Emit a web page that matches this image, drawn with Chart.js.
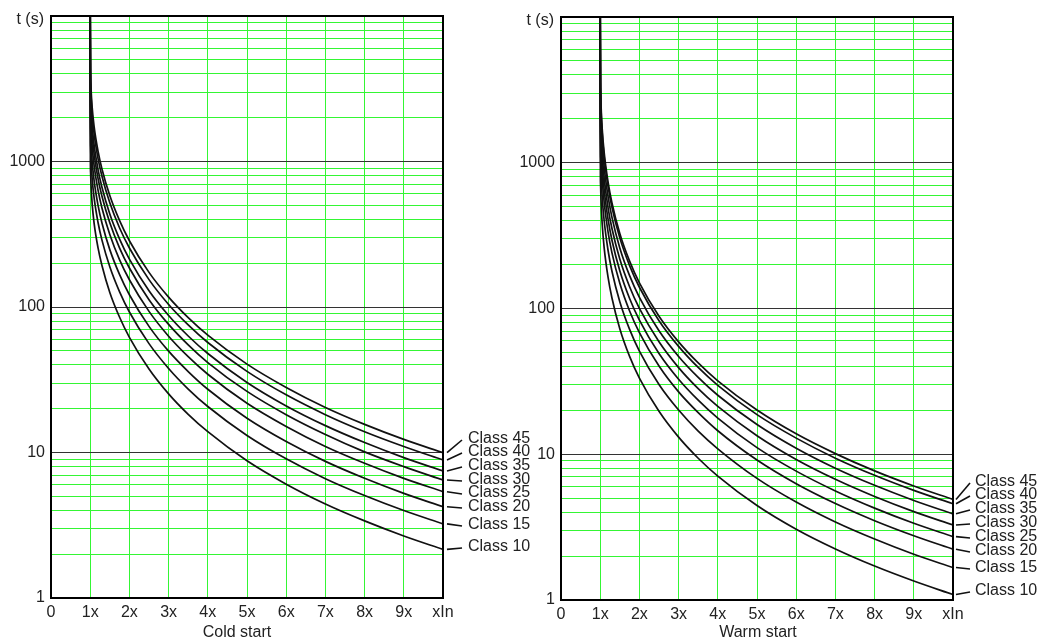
<!DOCTYPE html>
<html><head><meta charset="utf-8">
<script src="https://cdn.jsdelivr.net/npm/chart.js@4.4.1/dist/chart.umd.min.js"></script>
<style>
html,body{margin:0;padding:0;background:#fff;}
body{width:1039px;height:642px;position:relative;overflow:hidden;}
canvas{position:absolute;top:0;}
#cold{left:0;}
#warm{left:500px;}
</style></head><body>
<canvas id="cold" width="540" height="642"></canvas>
<canvas id="warm" width="539" height="642"></canvas>
<script>
// ---------- data ----------
const classNames = ['Class 10', 'Class 15', 'Class 20', 'Class 25', 'Class 30', 'Class 35', 'Class 40', 'Class 45'];
const currentMultiples = [1, 1.005, 1.01, 1.02, 1.05, 1.1, 1.2, 1.3, 1.5, 1.75, 2, 2.5, 3, 3.5, 4, 5, 6, 7, 8, 9, 10];
const xTickValues = [0, 1, 2, 3, 4, 5, 6, 7, 8, 9, 10];
const xTickLabels = ['0', '1x', '2x', '3x', '4x', '5x', '6x', '7x', '8x', '9x', 'xIn'];
const yTickValues = [1, 2, 3, 4, 5, 6, 7, 8, 9, 10, 20, 30, 40, 50, 60, 70, 80, 90, 100, 200, 300, 400, 500, 600, 700, 800, 900, 1000, 2000, 3000, 4000, 5000, 6000, 7000, 8000, 9000, 10000];
const yLabelValues = [1, 10, 100, 1000];
const yAxisName = 't (s)';

// Cold start trip times (s)
const cold10 = [10000, 992, 844, 698, 511, 376, 255, 193, 126, 85, 61.9, 37.5, 25.3, 18.3, 13.9, 8.77, 6.06, 4.43, 3.39, 2.67, 2.16];
const cold15 = [10000, 1481, 1261, 1043, 762, 562, 381, 288, 189, 127, 92.4, 56.0, 37.8, 27.3, 20.7, 13.1, 9.05, 6.61, 5.06, 3.99, 3.23];
const cold20 = [10000, 1947, 1657, 1371, 1002, 739, 500, 378, 248, 167, 121.4, 73.6, 49.7, 36.0, 27.2, 17.2, 11.9, 8.69, 6.65, 5.24, 4.24];
const cold25 = [10000, 2468, 2101, 1738, 1271, 937, 635, 479, 315, 211, 153.9, 93.3, 63.0, 45.6, 34.5, 21.8, 15.1, 11.0, 8.43, 6.64, 5.38];
const cold30 = [10000, 2971, 2529, 2092, 1530, 1128, 764, 577, 379, 254, 185.3, 112.3, 75.9, 54.9, 41.5, 26.3, 18.2, 13.3, 10.1, 8.00, 6.47];
const cold35 = [10000, 3423, 2914, 2410, 1762, 1299, 880, 665, 436, 293, 213.5, 129.4, 87.4, 63.2, 47.9, 30.3, 20.9, 15.3, 11.7, 9.22, 7.46];
const cold40 = [10000, 4078, 3471, 2871, 2100, 1548, 1048, 792, 520, 349, 254.3, 154.2, 104.1, 75.3, 57.0, 36.1, 24.9, 18.2, 13.9, 11.0, 8.88];
const cold45 = [10000, 4576, 3896, 3222, 2356, 1737, 1177, 889, 583, 392, 285.4, 173.0, 116.9, 84.5, 64.0, 40.5, 28.0, 20.4, 15.6, 12.3, 9.97];

// Warm start trip times (s)
const warm10 = [10000, 849, 703, 560, 383, 263, 164, 118, 72.7, 46.9, 33.3, 19.7, 13.1, 9.39, 7.08, 4.45, 3.06, 2.24, 1.71, 1.35, 1.09];
const warm15 = [10000, 1301, 1077, 859, 586, 403, 251, 180, 111.4, 71.9, 51.0, 30.1, 20.1, 14.4, 10.9, 6.83, 4.70, 3.43, 2.62, 2.06, 1.67];
const warm20 = [10000, 1741, 1441, 1149, 785, 540, 336, 241, 149.1, 96.2, 68.3, 40.3, 26.8, 19.3, 14.5, 9.13, 6.28, 4.59, 3.50, 2.76, 2.23];
const warm25 = [10000, 2122, 1757, 1401, 956, 658, 410, 294, 181.7, 117.2, 83.3, 49.1, 32.7, 23.5, 17.7, 11.1, 7.66, 5.60, 4.27, 3.36, 2.72];
const warm30 = [10000, 2550, 2111, 1684, 1149, 790, 493, 354, 218.4, 140.9, 100.1, 59.1, 39.3, 28.2, 21.3, 13.4, 9.21, 6.73, 5.13, 4.04, 3.27];
const warm35 = [10000, 3041, 2518, 2008, 1371, 943, 587, 422, 260.5, 168.0, 119.4, 70.4, 46.9, 33.7, 25.4, 16.0, 11.0, 8.02, 6.12, 4.82, 3.90];
const warm40 = [10000, 3564, 2950, 2353, 1606, 1105, 688, 494, 305.2, 196.9, 139.9, 82.5, 55.0, 39.4, 29.7, 18.7, 12.9, 9.40, 7.17, 5.65, 4.57];
const warm45 = [10000, 3823, 3165, 2524, 1723, 1185, 739, 530, 327.4, 211.2, 150.0, 88.5, 59.0, 42.3, 31.9, 20.1, 13.8, 10.1, 7.69, 6.06, 4.90];

const coldSeries = [cold10, cold15, cold20, cold25, cold30, cold35, cold40, cold45];
const warmSeries = [warm10, warm15, warm20, warm25, warm30, warm35, warm40, warm45];

// ---------- styling / layout ----------
const FONT = '"Liberation Sans", Arial, Helvetica, sans-serif';
const TEXT = '#222';
const GREEN = 'rgb(52,246,52)';
const DECADE = '#333';

function makeDatasets(series) {
  return series.map((vals, i) => ({
    label: classNames[i],
    data: currentMultiples.map((x, k) => ({x: x, y: vals[k]})),
    borderColor: '#111',
    borderWidth: 1.7,
    pointRadius: 0,
    fill: false,
    cubicInterpolationMode: 'monotone'
  }));
}

function annotationPlugin(layout) {
  return {
    id: 'annot_' + layout.title.replace(/\s/g, ''),
    afterDraw(chart) {
      const ctx = chart.ctx, a = chart.chartArea, ys = chart.scales.y;
      ctx.save();
      ctx.strokeStyle = '#000';
      ctx.lineWidth = 2;
      ctx.strokeRect(a.left, a.top, a.right - a.left, a.bottom - a.top);
      ctx.font = '16px ' + FONT;
      ctx.fillStyle = TEXT;
      ctx.textBaseline = 'middle';
      // axis name at top-left
      ctx.textAlign = 'right';
      ctx.fillText(yAxisName, a.left - 7, a.top + 4);
      ctx.textAlign = 'left';
      ctx.strokeStyle = '#111';
      ctx.lineWidth = 1.6;
      chart.data.datasets.forEach((ds, i) => {
        const last = ds.data[ds.data.length - 1];
        const y0 = ys.getPixelForValue(last.y);
        const y1 = a.bottom - layout.labelOffsets[i];
        ctx.beginPath();
        ctx.moveTo(a.right + layout.leadStart, y0);
        ctx.lineTo(a.right + layout.leadEnd, y1 + 1);
        ctx.stroke();
        ctx.fillText(ds.label, a.right + layout.textX, y1);
      });
      ctx.textAlign = 'center';
      ctx.fillText(layout.title, (a.left + a.right) / 2 + layout.titleDx, layout.titleY);
      ctx.restore();
    }
  };
}

function makeChart(id, series, layout) {
  return new Chart(document.getElementById(id), {
    type: 'line',
    data: {datasets: makeDatasets(series)},
    options: {
      responsive: false,
      animation: false,
      devicePixelRatio: 1,
      layout: {padding: {top: layout.top, right: layout.right, left: 0, bottom: 0}},
      plugins: {legend: {display: false}, tooltip: {enabled: false}},
      scales: {
        x: {
          type: 'linear', min: 0, max: 10,
          afterBuildTicks: (s) => { s.ticks = xTickValues.map(v => ({value: v})); },
          afterFit: (s) => { s.height = layout.xAxisHeight; },
          ticks: {
            autoSkip: false, maxRotation: 0, padding: 5,
            font: {family: FONT, size: 16}, color: TEXT,
            callback: (v) => xTickLabels[xTickValues.indexOf(v)]
          },
          grid: {
            drawTicks: false, lineWidth: 1,
            color: (c) => (c.tick && (c.tick.value === 0 || c.tick.value === 10)) ? 'rgba(0,0,0,0)' : GREEN
          },
          border: {display: false}
        },
        y: {
          type: 'logarithmic', min: 1, max: 10000,
          afterBuildTicks: (s) => { s.ticks = yTickValues.map(v => ({value: v})); },
          afterFit: (s) => { s.width = layout.yAxisWidth; },
          ticks: {
            autoSkip: false, padding: 6,
            font: {family: FONT, size: 16}, color: TEXT,
            callback: (v) => (yLabelValues.indexOf(v) >= 0 ? String(v) : '')
          },
          grid: {
            drawTicks: false, lineWidth: 1,
            color: (c) => {
              const v = c.tick ? c.tick.value : 0;
              if (v === 1 || v === 10000) return 'rgba(0,0,0,0)';
              return yLabelValues.indexOf(v) >= 0 ? DECADE : GREEN;
            }
          },
          border: {display: false}
        }
      }
    },
    plugins: [annotationPlugin(layout)]
  });
}

makeChart('cold', coldSeries, {
  title: 'Cold start', titleDx: -10, titleY: 633,
  top: 16, right: 97, xAxisHeight: 44, yAxisWidth: 51,
  leadStart: 4, leadEnd: 19, textX: 25,
  labelOffsets: [51, 73, 91, 105, 118, 132, 146, 159]
});
makeChart('warm', warmSeries, {
  title: 'Warm start', titleDx: 1, titleY: 633,
  top: 17, right: 86, xAxisHeight: 42, yAxisWidth: 61,
  leadStart: 3, leadEnd: 17, textX: 22,
  labelOffsets: [9, 32, 49, 63, 77, 91, 105, 118]
});
</script>
</body></html>
